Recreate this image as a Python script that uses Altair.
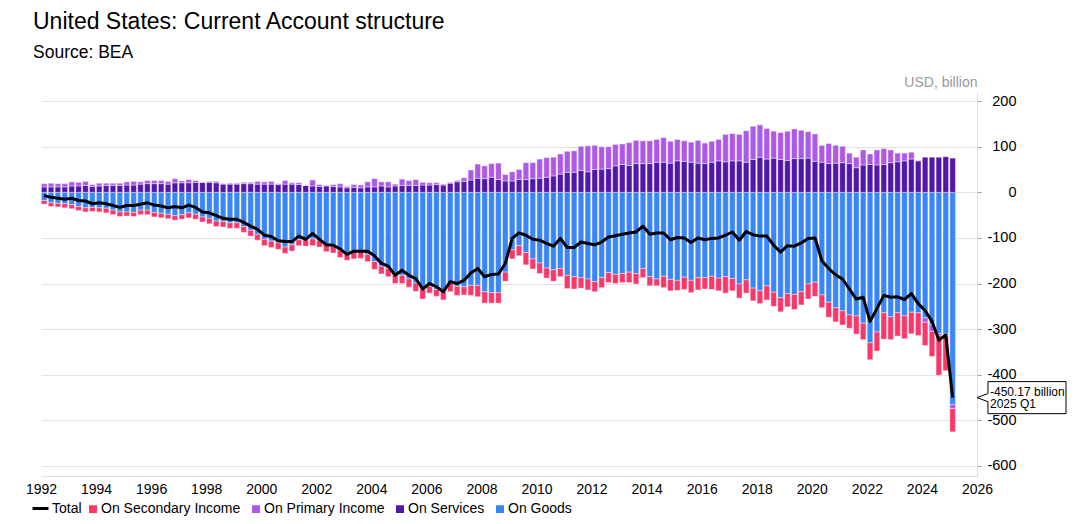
import altair as alt
import pandas as pd

FONT = "Liberation Sans"

# ---- data (USD billion, quarterly, 1992 Q1 .. 2025 Q1) ----
quarters = [f"{1992 + i // 4} Q{i % 4 + 1}" for i in range(133)]

services = [12, 12, 12, 12, 14, 14, 15, 13, 14, 15, 15, 15, 16, 16, 18, 19, 19, 19, 18, 21,
            21, 21, 22, 22, 22, 21, 18, 18, 18, 19, 19, 18, 18, 18, 17, 18, 18, 17, 15, 14,
            13, 14, 13, 12, 10, 11, 10, 12, 12, 14, 12, 14, 15, 15, 15, 16, 16, 17, 16, 20,
            23, 24, 27, 31, 30, 33, 28, 25, 25, 28, 28, 30, 31, 33, 36, 40, 44, 44, 48, 45,
            50, 51, 52, 58, 61, 59, 63, 63, 63, 66, 66, 64, 69, 68, 66, 64, 63, 66, 69, 67,
            69, 69, 66, 72, 77, 73, 75, 72, 70, 74, 74, 75, 68, 66, 63, 64, 65, 63, 54, 60,
            61, 60, 61, 65, 67, 69, 73, 69, 77, 77, 77, 78, 75]

primary = [7, 8, 7, 7, 9, 8, 9, 4, 6, 5, 5, 5, 7, 8, 5, 7, 7, 7, 6, 9,
           4, 7, 4, 0, 2, 3, 1, 2, 2, 3, 3, 6, 5, 6, 2, 8, 3, 4, 0, 13,
           4, 1, 4, 7, 3, 6, 6, 11, 18, 9, 11, 4, 14, 11, 13, 6, 5, 4, 2, 2,
           3, 8, 22, 31, 28, 30, 36, 14, 20, 22, 37, 35, 42, 43, 41, 44, 46, 47, 53, 57,
           53, 49, 48, 47, 45, 50, 51, 50, 50, 50, 54, 48, 47, 45, 44, 50, 45, 46, 47, 60,
           60, 58, 69, 73, 71, 67, 59, 59, 64, 65, 62, 58, 60, 37, 44, 39, 36, 23, 23, 33,
           23, 33, 35, 28, 19, 17, 15, 1, -10, -15, -5, -4, -9]

secondary = [-8, -8, -8, -9, -9, -9, -9, -9, -9, -10, -10, -10, -9, -9, -10, -10, -10, -10, -10, -10,
             -10, -11, -11, -11, -12, -12, -12, -12, -12, -13, -13, -13, -14, -14, -14, -14, -14, -13, -14, -15,
             -15, -15, -15, -16, -16, -16, -16, -16, -17, -17, -18, -19, -18, -18, -18, -22, -15, -15, -18, -18,
             -20, -18, -22, -25, -25, -23, -23, -20, -20, -22, -27, -22, -23, -22, -25, -18, -29, -27, -23, -24,
             -22, -22, -22, -20, -20, -23, -23, -20, -20, -15, -25, -25, -22, -27, -27, -27, -25, -29, -28, -36,
             -27, -31, -29, -28, -28, -31, -31, -31, -29, -33, -29, -33, -31, -28, -33, -31, -31, -29, -40, -36,
             -37, -42, -58, -50, -51, -50, -47, -50, -51, -55, -86, -76, -51]

goods = [-18, -23, -24, -25, -27, -31, -34, -33, -34, -35, -39, -43, -43, -44, -39, -39, -44, -46, -48, -51,
         -49, -45, -48, -54, -57, -63, -64, -67, -67, -75, -83, -92, -103, -107, -111, -120, -115, -104, -104, -102,
         -105, -115, -118, -127, -133, -130, -129, -136, -152, -162, -167, -181, -182, -190, -199, -212, -206, -213, -218, -200,
         -206, -207, -204, -204, -218, -220, -220, -175, -126, -117, -132, -146, -155, -166, -170, -167, -182, -185, -187, -190,
         -196, -187, -176, -180, -178, -175, -178, -167, -185, -190, -184, -191, -193, -186, -193, -187, -187, -184, -188, -185,
         -189, -201, -192, -210, -216, -205, -219, -231, -222, -224, -218, -201, -197, -225, -241, -253, -260, -269, -271, -287,
         -330, -306, -264, -273, -264, -271, -263, -264, -275, -290, -310, -311, -465.17]

total = [-7, -11, -13, -15, -13, -18, -19, -25, -23, -25, -29, -33, -29, -29, -26, -23, -28, -30, -34, -31,
         -34, -28, -33, -43, -45, -51, -57, -59, -59, -66, -74, -81, -94, -97, -106, -108, -108, -96, -103, -90,
         -103, -115, -116, -124, -136, -129, -129, -129, -139, -156, -162, -182, -171, -182, -189, -212, -200, -207, -218, -196,
         -200, -193, -177, -167, -185, -180, -179, -156, -101, -89, -94, -103, -105, -112, -118, -101, -121, -121, -109, -112,
         -115, -109, -98, -95, -92, -89, -87, -74, -92, -89, -89, -104, -99, -100, -110, -100, -104, -101, -100, -94,
         -87, -105, -86, -93, -96, -96, -116, -131, -117, -118, -111, -101, -100, -150, -167, -181, -190, -212, -234, -230,
         -283, -255, -226, -230, -229, -235, -222, -244, -259, -283, -324, -313, -450.17]

component_names = ["On Secondary Income", "On Primary Income", "On Services", "On Goods"]
component_colors = ["#f8386a", "#ae58e8", "#5216a8", "#3a86f8"]
stack_order = {"On Services": 0, "On Goods": 1, "On Primary Income": 2, "On Secondary Income": 3}
x_ticks = list(range(1992, 2027, 2))
y_ticks = list(range(-600, 201, 100))

# ---- tables built from the arrays ----
t_center = [int(q[:4]) + (int(q[-1]) - 1) / 4 + 0.115 for q in quarters]
series = {"On Goods": goods, "On Services": services,
          "On Primary Income": primary, "On Secondary Income": secondary}
rows = []
for name, vals in series.items():
    for t, q, v in zip(t_center, quarters, vals):
        rows.append({"t": t, "quarter": q, "comp": name, "value": v, "ord": stack_order[name]})
df_bars = pd.DataFrame(rows)
df_total = pd.DataFrame({"t": t_center, "quarter": quarters, "total": total, "series": "Total"})
df_note = pd.DataFrame({
    "xa": [x_ticks[-1]],
    "ya": [total[-1]],
    "line1": [f"{total[-1]:.2f} billion"],
    "line2": [quarters[-1]],
})

xscale = alt.Scale(domain=[x_ticks[0], x_ticks[-1]], nice=False, zero=False, padding=0)
yscale = alt.Scale(domain=[-622, 220], nice=False, zero=False, padding=0)

xaxis = alt.Axis(values=x_ticks, format="d", ticks=False, grid=False, domain=True,
                 domainColor="#dddddd", labelFont=FONT, labelFontSize=14, labelColor="#000",
                 labelPadding=6, labelFlush=False, labelOverlap=False, title=None)
yaxis = alt.Axis(orient="right", values=y_ticks, labelExpr="'' + datum.value",
                 grid=True, gridColor="#e3e3e3", domain=True, domainColor="#dddddd",
                 ticks=True, tickColor="#999999", tickSize=4,
                 labelAlign="right", labelPadding=35, labelFont=FONT, labelFontSize=14.5,
                 labelColor="#000",
                 title="USD, billion", titleAngle=0, titleAlign="right",
                 titleBaseline="alphabetic", titleX=0, titleY=-6, titleColor="#999999",
                 titleFont=FONT, titleFontSize=14, titleFontWeight="normal")

bars = alt.Chart(df_bars).transform_stack(
    stack="value", groupby=["t"], as_=["v0", "v1"],
    sort=[alt.SortField(field="ord", order="ascending")], offset="zero"
).mark_bar(size=5.6, stroke="white", strokeWidth=0.8, strokeOpacity=0.5).encode(
    x=alt.X("t:Q", scale=xscale, axis=xaxis),
    y=alt.Y("v0:Q", scale=yscale, axis=yaxis),
    y2="v1:Q",
    fill=alt.Fill("comp:N", scale=alt.Scale(domain=component_names, range=component_colors),
                  legend=alt.Legend(orient="none", legendX=45, legendY=410, direction="horizontal",
                                    title=None, symbolType="square", symbolSize=90,
                                    labelFont=FONT, labelFontSize=14, labelColor="#000",
                                    labelOffset=1, columnPadding=7, labelLimit=300)),
)

line = alt.Chart(df_total).mark_line(strokeWidth=3, strokeJoin="round").encode(
    x=alt.X("t:Q", scale=xscale),
    y=alt.Y("total:Q", scale=yscale, title="USD, billion"),
    stroke=alt.Stroke("series:N", scale=alt.Scale(domain=["Total"], range=["#000000"]),
                      legend=alt.Legend(orient="none", legendX=-10, legendY=407, direction="horizontal",
                                        title=None, symbolType="stroke", symbolSize=256,
                                        symbolStrokeWidth=3, labelFont=FONT, labelFontSize=14,
                                        labelColor="#000", labelOffset=2)),
)

callout_path = "M0,0 L0.122,-0.045 L0.122,-0.178 L0.989,-0.178 L0.989,0.178 L0.122,0.178 L0.122,0.045 Z"
box = alt.Chart(df_note).mark_point(shape=callout_path, size=32400, filled=True, fill="white",
                                    stroke="black", strokeWidth=1, opacity=1).encode(
    x=alt.X("xa:Q", scale=xscale),
    y=alt.Y("ya:Q", scale=yscale, title="USD, billion"),
)
text1 = alt.Chart(df_note).mark_text(align="left", baseline="alphabetic", dx=13, dy=-2,
                                     font=FONT, fontSize=12, color="#000").encode(
    x=alt.X("xa:Q", scale=xscale), y=alt.Y("ya:Q", scale=yscale, title="USD, billion"),
    text="line1:N")
text2 = alt.Chart(df_note).mark_text(align="left", baseline="alphabetic", dx=13, dy=10,
                                     font=FONT, fontSize=12, color="#000").encode(
    x=alt.X("xa:Q", scale=xscale), y=alt.Y("ya:Q", scale=yscale, title="USD, billion"),
    text="line2:N")

chart = alt.layer(bars, line, box, text1, text2).properties(
    width=936, height=384,
    padding={"left": 33, "top": 84, "right": 90, "bottom": 40},
    autosize=alt.AutoSizeParams(type="none"),
    title=alt.TitleParams(text="United States: Current Account structure", subtitle="Source: BEA",
                          anchor="start", frame="group", dx=-8, offset=14, subtitlePadding=10,
                          font=FONT, fontSize=23, fontWeight="normal", color="#000",
                          subtitleFont=FONT, subtitleFontSize=17.5, subtitleColor="#000"),
).resolve_scale(fill="independent", stroke="independent").configure_view(stroke=None)

chart.save("out.html", embed_options={"renderer": "svg", "actions": False})
